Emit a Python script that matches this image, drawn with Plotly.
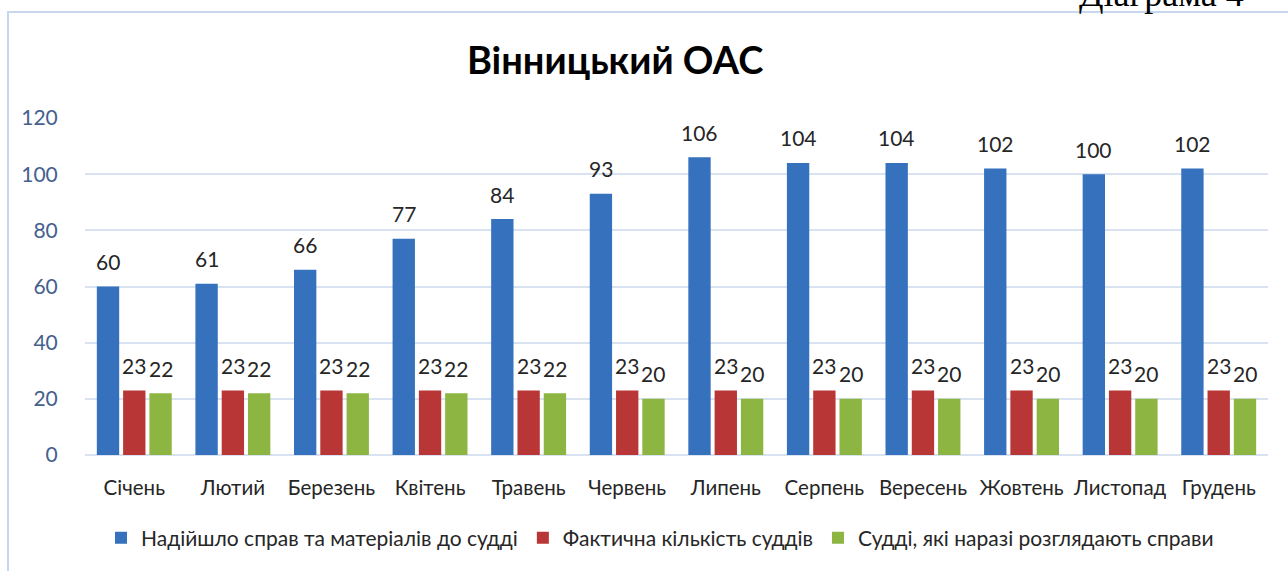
import plotly.graph_objects as go

months = ["Січень", "Лютий", "Березень", "Квітень", "Травень", "Червень",
          "Липень", "Серпень", "Вересень", "Жовтень", "Листопад", "Грудень"]
received = [60, 61, 66, 77, 84, 93, 106, 104, 104, 102, 100, 102]
judges_actual = [23] * 12
judges_active = [22, 22, 22, 22, 22, 20, 20, 20, 20, 20, 20, 20]

series_names = ["Надійшло справ та матеріалів до судді",
                "Фактична кількість суддів",
                "Судді, які наразі розглядають справи"]
series_values = [received, judges_actual, judges_active]
colors = ["#3571bd", "#b93636", "#8db542"]

FONT = "Lato"
W, H = 1288, 571
L, R, T, B = 85, 20, 118, 116
pw, ph = W - L - R, H - T - B

fig = go.Figure()
for name, vals, col in zip(series_names, series_values, colors):
    fig.add_trace(go.Bar(x=months, y=vals, name=name,
                         marker=dict(color=col, line=dict(width=0))))

# data labels above bars
slot = pw / 12 * 0.8 / 3
for j, vals in enumerate(series_values):
    for i, v in enumerate(vals):
        fig.add_annotation(x=i, y=v, xref="x", yref="y", text=str(v),
                           showarrow=False, xshift=(j - 1) * slot, yshift=25,
                           yanchor="middle",
                           font=dict(family=FONT, size=21, color="#262626"))

def px_x(p):
    return (p - L) / pw

def px_y(p):
    return (H - B - p) / ph

# chart frame
fig.add_shape(type="rect", xref="paper", yref="paper",
              x0=px_x(8), x1=px_x(1300), y0=px_y(590), y1=px_y(12),
              line=dict(color="#c7d7ec", width=2), fillcolor="rgba(0,0,0,0)",
              layer="below")

# partially visible caption at top right
fig.add_annotation(xref="paper", yref="paper", x=px_x(1161), y=px_y(-6),
                   text="Діаграма 4", showarrow=False, xanchor="center",
                   yanchor="middle",
                   font=dict(family="Liberation Serif", size=36, color="#000000"))

fig.update_layout(
    width=W, height=H,
    margin=dict(l=L, r=R, t=T, b=B),
    paper_bgcolor="white", plot_bgcolor="white",
    title=dict(text="<b>Вінницький ОАС</b>", x=px_x(650), xanchor="center",
               y=1 - 61 / H, yanchor="middle",
               font=dict(family=FONT, size=38, color="#000000")),
    barmode="group", bargap=0.2, bargroupgap=0.15,
    showlegend=True,
    legend=dict(orientation="h", x=px_x(660), xanchor="center",
                y=px_y(538), yanchor="middle",
                font=dict(family=FONT, size=21, color="#262626"),
                itemwidth=30, traceorder="normal"),
    xaxis=dict(type="category", showgrid=False, showline=False, zeroline=False,
               ticks="outside", ticklen=14, tickcolor="rgba(0,0,0,0)",
               tickfont=dict(family=FONT, size=20.5, color="#262626")),
    yaxis=dict(range=[0, 120], dtick=20, showgrid=True, gridcolor="#d9e2f0",
               gridwidth=2, zeroline=True, zerolinecolor="#d9e2f0", zerolinewidth=2,
               showline=False, ticks="outside", ticklen=22,
               tickcolor="rgba(0,0,0,0)",
               tickfont=dict(family=FONT, size=21, color="#44608c")),
)

fig.write_html("out.html", config={"displayModeBar": False},
               post_script="document.body.style.margin='0';")
